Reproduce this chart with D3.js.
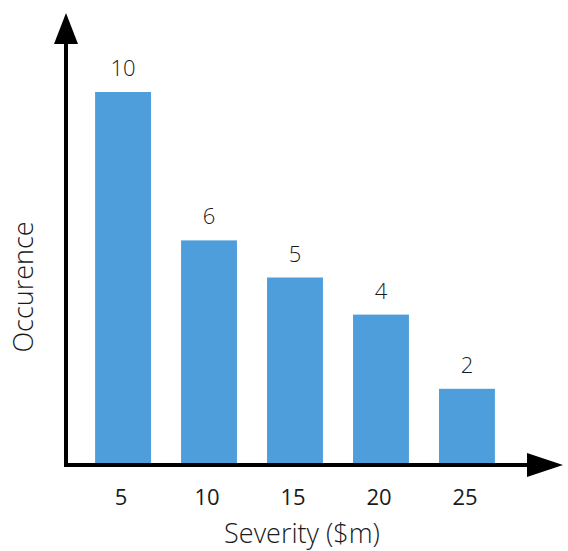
<!DOCTYPE html>
<html>
<head>
<meta charset="utf-8">
<script src="https://cdn.jsdelivr.net/npm/d3@7"></script>
<style>
  html, body { margin: 0; padding: 0; background: #fff; }
  svg { display: block; }
  text { font-family: "Open Sans", "Noto Sans", sans-serif; fill: #1a1a1a; }
</style>
</head>
<body>
<svg id="chart" width="568" height="551"></svg>
<script>
// Severity buckets ($m) and how often each occurred
const severities = ["5", "10", "15", "20", "25"];
const occurrences = [10, 6, 5, 4, 2];
const xTitle = "Severity ($m)";
const yTitle = "Occurence";

const svg = d3.select("#chart");
const originX = 66, originY = 465;

const x = d3.scaleBand()
  .domain(severities)
  .range([65, 525])
  .paddingInner(0.35)
  .paddingOuter(0.35);

const y = d3.scaleLinear()
  .domain([0, 10])
  .range([463, 92]);

// bars
svg.append("g").selectAll("rect")
  .data(occurrences)
  .join("rect")
  .attr("x", (d, i) => x(severities[i]))
  .attr("y", d => y(d))
  .attr("width", x.bandwidth())
  .attr("height", d => y(0) - y(d))
  .attr("fill", "#4e9edc");

// value labels above each bar
svg.append("g").selectAll("text")
  .data(occurrences)
  .join("text")
  .attr("x", (d, i) => x(severities[i]) + x.bandwidth() / 2)
  .attr("y", d => y(d) - 16)
  .attr("text-anchor", "middle")
  .attr("font-size", 22)
  .attr("font-weight", 300)
  .text(d => d);

// x tick labels
const xAxis = svg.append("g")
  .attr("transform", `translate(0,${originY})`)
  .call(d3.axisBottom(x).tickSize(0).tickPadding(24));
xAxis.select(".domain").remove();
xAxis.selectAll("text")
  .attr("font-size", 22)
  .attr("font-family", "\"Open Sans\", sans-serif")
  .attr("fill", "#111")
  .attr("dx", -2);

// axis lines with arrowheads
const axes = svg.append("g");
axes.append("line")
  .attr("x1", originX).attr("y1", originY)
  .attr("x2", originX).attr("y2", 40)
  .attr("stroke", "#000").attr("stroke-width", 4);
axes.append("path")
  .attr("d", `M${originX},13 L${originX - 12},44 L${originX + 12},44 Z`)
  .attr("fill", "#000");
axes.append("line")
  .attr("x1", originX - 2).attr("y1", originY)
  .attr("x2", 530).attr("y2", originY)
  .attr("stroke", "#000").attr("stroke-width", 4);
axes.append("path")
  .attr("d", `M563,${originY} L527,${originY - 12} L527,${originY + 12} Z`)
  .attr("fill", "#000");

// axis titles
svg.append("text")
  .attr("x", 302)
  .attr("y", 543)
  .attr("text-anchor", "middle")
  .attr("font-size", 27)
  .attr("font-weight", 300)
  .text(xTitle);

svg.append("text")
  .attr("transform", "translate(33,287) rotate(-90)")
  .attr("text-anchor", "middle")
  .attr("font-size", 27)
  .attr("font-weight", 300)
  .text(yTitle);
</script>
</body>
</html>
